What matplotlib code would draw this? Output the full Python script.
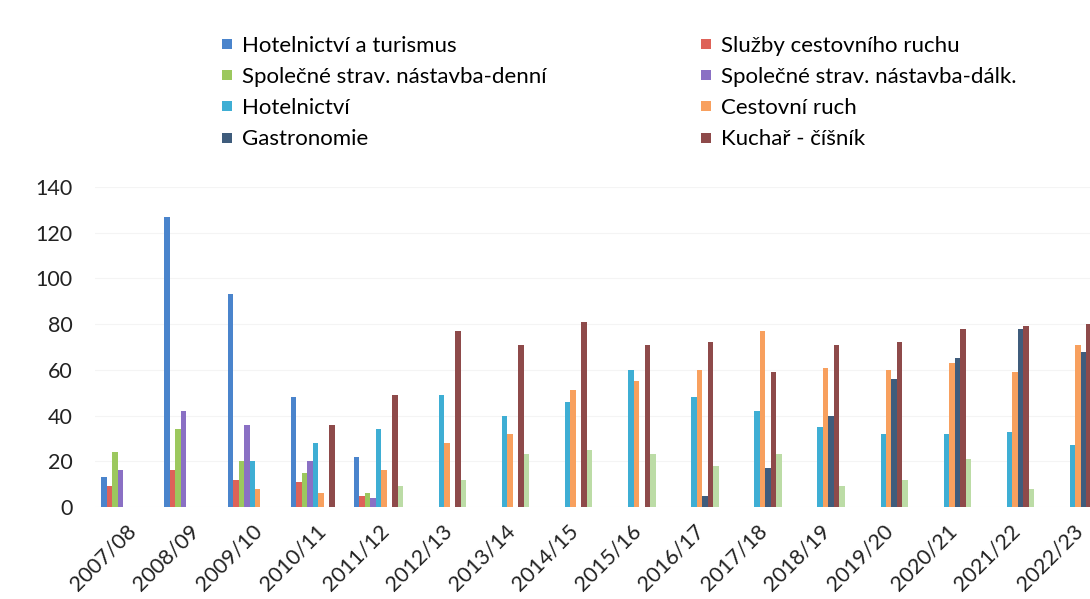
import matplotlib
matplotlib.use("Agg")
import matplotlib.pyplot as plt
import numpy as np
from matplotlib.lines import Line2D

plt.rcParams['font.family'] = ['Lato', 'DejaVu Sans']

categories = ["2007/08", "2008/09", "2009/10", "2010/11", "2011/12", "2012/13",
              "2013/14", "2014/15", "2015/16", "2016/17", "2017/18", "2018/19",
              "2019/20", "2020/21", "2021/22", "2022/23"]

hotelnictvi_turismus = [13, 127, 93, 48, 22, 0, 0, 0, 0, 0, 0, 0, 0, 0, 0, 0]
sluzby_cr = [9, 16, 12, 11, 5, 0, 0, 0, 0, 0, 0, 0, 0, 0, 0, 0]
ss_denni = [24, 34, 20, 15, 6, 0, 0, 0, 0, 0, 0, 0, 0, 0, 0, 0]
ss_dalk = [16, 42, 36, 20, 4, 0, 0, 0, 0, 0, 0, 0, 0, 0, 0, 0]
hotelnictvi = [0, 0, 20, 28, 34, 49, 40, 46, 60, 48, 42, 35, 32, 32, 33, 27]
cestovni_ruch = [0, 0, 8, 6, 16, 28, 32, 51, 55, 60, 77, 61, 60, 63, 59, 71]
gastronomie = [0, 0, 0, 0, 0, 0, 0, 0, 0, 5, 17, 40, 56, 65, 78, 68]
kuchar_cisnik = [0, 0, 0, 36, 49, 77, 71, 81, 71, 72, 59, 71, 72, 78, 79, 80]
ostatni = [0, 0, 0, 0, 9, 12, 23, 25, 23, 18, 23, 9, 12, 21, 8, 6]

series = [
    ("Hotelnictví a turismus", hotelnictvi_turismus, "#4a84cc"),
    ("Služby cestovního ruchu", sluzby_cr, "#de6259"),
    ("Společné strav. nástavba-denní", ss_denni, "#9cc85e"),
    ("Společné strav. nástavba-dálk.", ss_dalk, "#8a70c4"),
    ("Hotelnictví", hotelnictvi, "#3eaed4"),
    ("Cestovní ruch", cestovni_ruch, "#f8a05e"),
    ("Gastronomie", gastronomie, "#3f5c7c"),
    ("Kuchař - číšník", kuchar_cisnik, "#8e4a4a"),
    (None, ostatni, "#bcdca6"),
]

fig = plt.figure(figsize=(10.9, 5.99), dpi=100)
ax = fig.add_axes([94.5 / 1090, (599 - 507) / 599, 1009.6 / 1090, 320 / 599])

x = np.arange(len(categories))
n = len(series)
bw = 0.087
for k, (name, vals, col) in enumerate(series):
    ax.bar(x + (k - (n - 1) / 2) * bw, vals, width=bw, color=col, linewidth=0)

ax.set_xlim(-0.5, len(categories) - 0.5)
ax.set_ylim(0, 140)
ax.set_yticks(np.arange(0, 141, 20))
ax.set_xticks(x)
ax.set_xticklabels(categories, rotation=45, ha='right', rotation_mode='anchor')
ax.tick_params(axis='both', length=0, labelsize=15.5, colors='#222222')
ax.tick_params(axis='y', pad=16)
ax.tick_params(axis='x', pad=10)
for s in ax.spines.values():
    s.set_visible(False)
ax.grid(axis='y', color='#f4f4f4', linewidth=0.8)
ax.set_axisbelow(True)

def handles(idx):
    return [Line2D([], [], marker='s', linestyle='none', markersize=7,
                   markerfacecolor=series[i][2], markeredgewidth=0) for i in idx]

col1 = [0, 2, 4, 6]
col2 = [1, 3, 5, 7]
leg_kw = dict(frameon=False, loc='upper left', borderpad=0, handlelength=0.55,
              handletextpad=0.4, labelspacing=0.5, fontsize=16,
              borderaxespad=0)
leg1 = fig.legend(handles(col1), [series[i][0] for i in col1],
                  bbox_to_anchor=(221 / 1090, 1 - 36 / 599), **leg_kw)
leg2 = fig.legend(handles(col2), [series[i][0] for i in col2],
                  bbox_to_anchor=(700 / 1090, 1 - 36 / 599), **leg_kw)

fig.savefig("out.png", dpi=100)
